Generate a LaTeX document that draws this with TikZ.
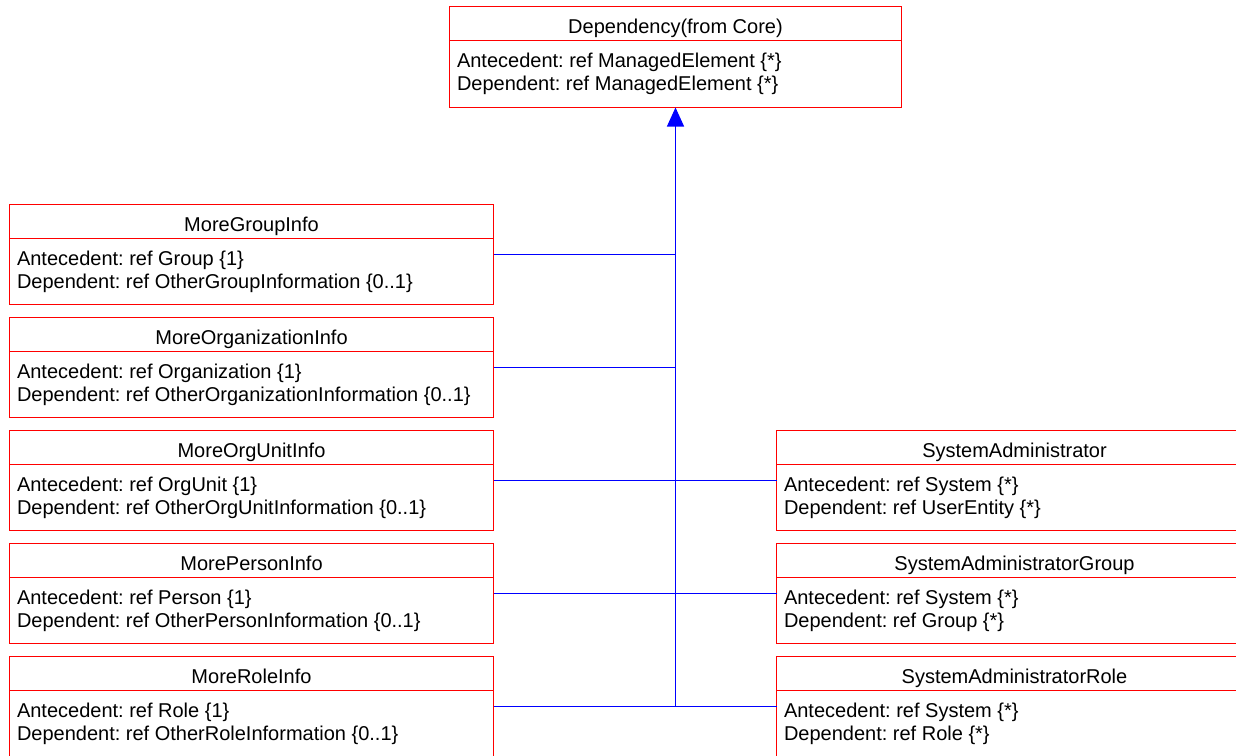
\documentclass[tikz,border=0pt]{standalone}
\usepackage{fontspec}
\setmainfont{Liberation Sans}
\frenchspacing
\usetikzlibrary{positioning,arrows.meta}
\definecolor{umlred}{RGB}{255,0,0}
\definecolor{umlblue}{RGB}{0,0,255}
\tikzset{
  cls/.style={draw=umlred, line width=1.3pt, inner sep=0pt, outer sep=0pt, minimum height=100pt},
  lbox/.style={cls, minimum width=484pt},
  rbox/.style={cls, minimum width=476pt},
  txt/.style={inner sep=0pt, outer sep=0pt},
  dep/.style={draw=umlblue, line width=1.3pt}
}
% separator, title and the two attribute lines of a class box
\def\umlclass#1#2#3#4{
  \draw[umlred, line width=1.3pt] ([yshift=-34pt]#1.north west) -- ([yshift=-34pt]#1.north east);
  \node[txt, anchor=base] (#1-t) at ([yshift=-26.5pt]#1.north) {#2};
  \node[txt, anchor=base west] (#1-a) at ([xshift=7.5pt,yshift=-60.5pt]#1.north west) {#3};
  \node[txt, anchor=base west] (#1-d) at ([yshift=-23.5pt]#1-a.base west) {#4};
}
\begin{document}
\begin{tikzpicture}[x=1pt, y=-1pt, font=\fontsize{20}{23}\selectfont]
  \useasboundingbox (0,0) rectangle (1236,755);
  \clip (0,0) rectangle (1236,755);
  \node[cls, minimum width=452pt, minimum height=101pt, anchor=north west] (dep) at (449.5,6.5) {};
  \umlclass{dep}{Dependency(from Core)}{Antecedent: ref ManagedElement \{*\}}{Dependent: ref ManagedElement \{*\}}
  % left column
  \node[lbox, anchor=north west] (grp) at (9.5,204.5) {};
  \node[lbox, below=13pt of grp] (org) {};
  \node[lbox, below=13pt of org] (ou) {};
  \node[lbox, below=13pt of ou] (per) {};
  \node[lbox, below=13pt of per] (rol) {};
  \umlclass{grp}{MoreGroupInfo}{Antecedent: ref Group \{1\}}{Dependent: ref OtherGroupInformation \{0..1\}}
  \umlclass{org}{MoreOrganizationInfo}{Antecedent: ref Organization \{1\}}{Dependent: ref OtherOrganizationInformation \{0..1\}}
  \umlclass{ou}{MoreOrgUnitInfo}{Antecedent: ref OrgUnit \{1\}}{Dependent: ref OtherOrgUnitInformation \{0..1\}}
  \umlclass{per}{MorePersonInfo}{Antecedent: ref Person \{1\}}{Dependent: ref OtherPersonInformation \{0..1\}}
  \umlclass{rol}{MoreRoleInfo}{Antecedent: ref Role \{1\}}{Dependent: ref OtherRoleInformation \{0..1\}}
  % right column
  \node[rbox, anchor=north west] (sa) at (776.5,430.5) {};
  \node[rbox, below=13pt of sa] (sag) {};
  \node[rbox, below=13pt of sag] (sar) {};
  \umlclass{sa}{SystemAdministrator}{Antecedent: ref System \{*\}}{Dependent: ref UserEntity \{*\}}
  \umlclass{sag}{SystemAdministratorGroup}{Antecedent: ref System \{*\}}{Dependent: ref Group \{*\}}
  \umlclass{sar}{SystemAdministratorRole}{Antecedent: ref System \{*\}}{Dependent: ref Role \{*\}}
  % connectors
  \coordinate (trunk) at (rol.east -| dep.south);
  \draw[dep, -{Triangle[width=17pt,length=19pt]}] (trunk) -- (dep.south);
  \draw[dep] (grp.east) -- (grp.east -| dep.south);
  \draw[dep] (org.east) -- (org.east -| dep.south);
  \draw[dep] (ou.east) -- (ou.east -| dep.south);
  \draw[dep] (per.east) -- (per.east -| dep.south);
  \draw[dep] (rol.east) -- (trunk);
  \draw[dep] (sa.west) -- (sa.west -| dep.south);
  \draw[dep] (sag.west) -- (sag.west -| dep.south);
  \draw[dep] (sar.west) -- (trunk);
\end{tikzpicture}
\end{document}
